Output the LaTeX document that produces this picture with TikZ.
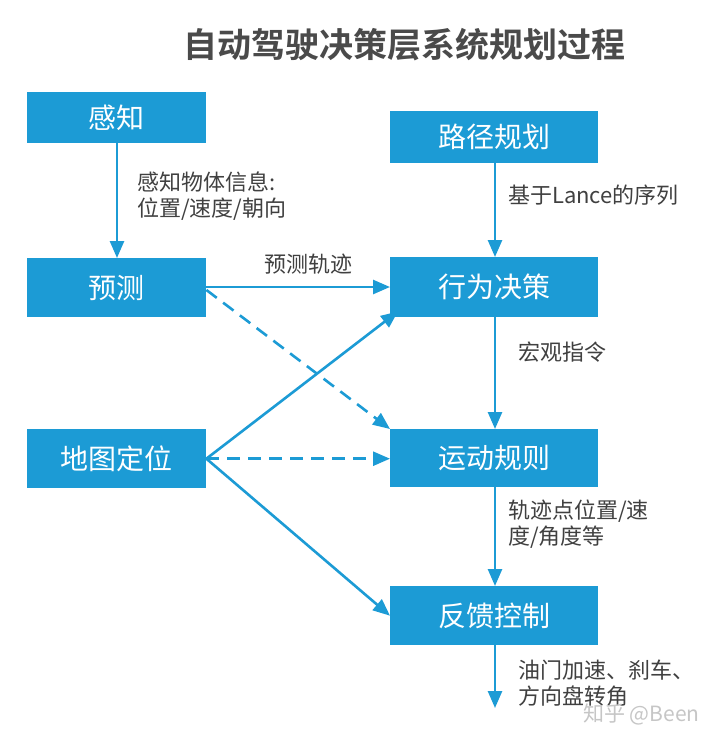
\documentclass[tikz,border=0pt]{standalone}
\usepackage{fontspec}
\setmainfont{Noto Sans CJK SC}
\newfontfamily\cjk{Noto Sans CJK SC}
\newfontfamily\cjkbold{Noto Sans CJK SC Bold}
\usetikzlibrary{arrows.meta}
\definecolor{boxblue}{HTML}{1C9BD5}
\definecolor{txtgray}{HTML}{404040}
\definecolor{titlegray}{HTML}{4A4A4A}
\begin{document}
\begin{tikzpicture}[x=1pt,y=-1pt,
  blockbox/.style={fill=boxblue,draw=none,text=white,font=\cjk\fontsize{28}{30}\selectfont,inner sep=0pt,anchor=north west},
  conn/.style={draw=boxblue,line width=2.6pt,-{Triangle[length=17pt,width=14pt]}},
  dconn/.style={conn,dash pattern=on 13pt off 8pt},
  lbl/.style={text=txtgray,font=\cjk\fontsize{22}{26}\selectfont,align=left,anchor=north west,inner sep=0pt}]
\useasboundingbox (0,0) rectangle (720,742);
\fill[white] (0,0) rectangle (720,742);
\node[text=titlegray,font=\cjkbold\fontsize{34}{38}\selectfont] (title) at (404,45) {自动驾驶决策层系统规划过程};
% boxes
\node[blockbox,minimum width=179pt,minimum height=51pt] (gz) at (27,92) {感知};
\node[blockbox,minimum width=179pt,minimum height=59pt] (yc) at (27,258) {预测};
\node[blockbox,minimum width=179pt,minimum height=59pt] (dt) at (27,429) {地图定位};
\node[blockbox,minimum width=208pt,minimum height=52pt] (lj) at (390,111) {路径规划};
\node[blockbox,minimum width=208pt,minimum height=60pt] (xw) at (390,257) {行为决策};
\node[blockbox,minimum width=208pt,minimum height=58pt] (yd) at (390,429) {运动规则};
\node[blockbox,minimum width=208pt,minimum height=59pt] (fk) at (390,586) {反馈控制};
\coordinate (endpt) at (495,708);
% connectors
\draw[conn] (gz.south -| 117,0) -- (yc.north -| 117,0);
\draw[conn] (lj.south -| 495,0) -- (xw.north -| 495,0);
\draw[conn] (yc.east |- 0,287) -- (xw.west |- 0,287);
\draw[dconn] (yc.east |- 0,290) -- (yd.north west);
\draw[conn] (dt.east) -- ([xshift=8pt,yshift=6pt]xw.south west);
\draw[dconn] (dt.east) -- (yd.west |- dt.east);
\draw[conn] (dt.east) -- (fk.west);
\draw[conn] (xw.south -| 495,0) -- (yd.north -| 495,0);
\draw[conn] (yd.south -| 495,0) -- (fk.north -| 495,0);
\draw[conn] (fk.south -| 495,0) -- (endpt);
% labels
\node[lbl] (l1) at (137,172) {感知物体信息:\\位置/速度/朝向};
\node[lbl] (l2) at (508,185) {基于Lance的序列};
\node[lbl] (l3) at (264,254) {预测轨迹};
\node[lbl] (l4) at (518,342) {宏观指令};
\node[lbl] (l5) at (508,500) {轨迹点位置/速\\度/角度等};
\node[lbl] (l6) at (518,660) {油门加速、刹车、\\方向盘转角};
\node[text=gray!45,font=\cjk\fontsize{21}{24}\selectfont,anchor=west,inner sep=0pt] (wm) at (583,714) {知乎 @Been};
\end{tikzpicture}
\end{document}
